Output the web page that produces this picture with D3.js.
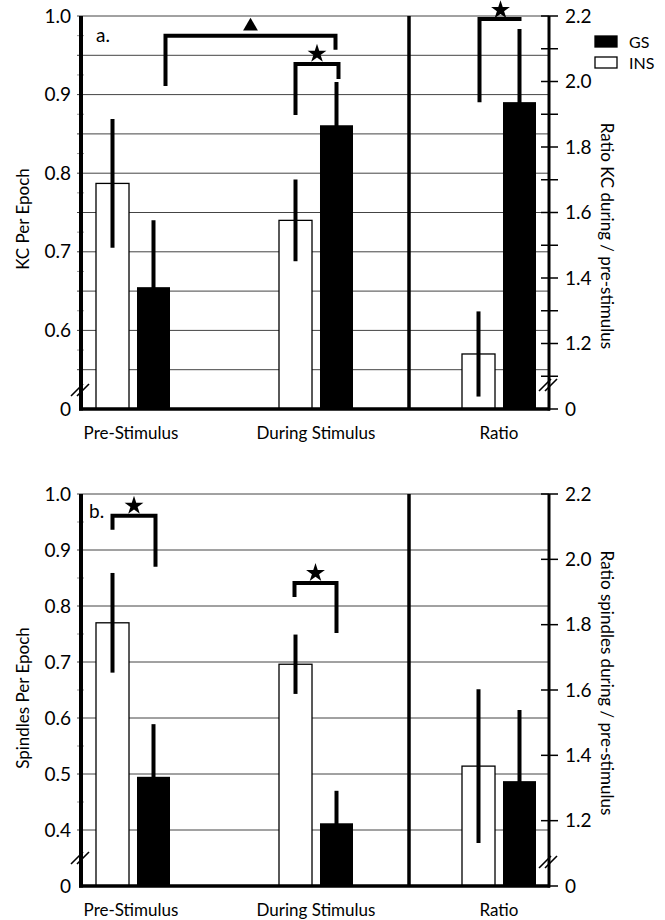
<!DOCTYPE html>
<html>
<head>
<meta charset="utf-8">
<script src="https://cdn.jsdelivr.net/npm/d3@7"></script>
<style>
  body { margin: 0; background: #fff; }
  text { font-family: Lato, "Open Sans", sans-serif; fill: #000; }
</style>
</head>
<body>
<script>
// les données
const categories = ["Pre-Stimulus", "During Stimulus", "Ratio"];
const groupes = ["INS", "GS"];

// panel a : KC
const kcIns = [0.787, 0.740, 1.168];
const kcInsErr = [0.082, 0.052, 0.130];
const kcGs = [0.655, 0.861, 1.937];
const kcGsErr = [0.085, 0.055, 0.223];

// panel b : spindles
const spIns = [0.770, 0.696, 1.367];
const spInsErr = [0.089, 0.053, 0.235];
const spGs = [0.495, 0.412, 1.321];
const spGsErr = [0.094, 0.058, 0.218];

const ticksGaucheA = [0.5, 0.6, 0.7, 0.8, 0.9, 1.0];
const ticksGaucheB = [0.3, 0.4, 0.5, 0.6, 0.7, 0.8, 0.9, 1.0];
const ticksDroite = [1.0, 1.2, 1.4, 1.6, 1.8, 2.0, 2.2];

// crochets de signif. (x: categorie/groupe, y en unités des axes)
const crochetsA = [
  { axe: "g", c1: 0, g1: "GS", dx1: 12, c2: 1, g2: "GS", dx2: -1, y1: 0.911, yTop: 0.975, y2: 0.957, sym: "tri", ySym: 0.987 },
  { axe: "g", c1: 1, g1: "INS", dx1: 0, c2: 1, g2: "GS", dx2: 2, y1: 0.874, yTop: 0.939, y2: 0.920, sym: "star", ySym: 0.952 },
  { axe: "d", c1: 2, g1: "INS", dx1: 1, c2: 2, g2: "GS", dx2: 2, y1: 1.937, yTop: 2.191, y2: 2.191, sym: "star", ySym: 2.218 }
];
const crochetsB = [
  { axe: "g", c1: 0, g1: "INS", dx1: 0, c2: 0, g2: "GS", dx2: 2, y1: 0.936, yTop: 0.961, y2: 0.870, sym: "star", ySym: 0.979 },
  { axe: "g", c1: 1, g1: "INS", dx1: -1, c2: 1, g2: "GS", dx2: 0, y1: 0.816, yTop: 0.841, y2: 0.752, sym: "star", ySym: 0.859 }
];

const largeur = 665;
const hauteur = 920;
const gauche = 81;
const droite = 549;

const svg = d3.select("body")
  .append("svg")
  .attr("width", largeur)
  .attr("height", hauteur);

const x = d3.scalePoint()
  .domain(categories)
  .range([133, 499]);

const xInner = d3.scaleBand()
  .domain(groupes)
  .range([-37, 37])
  .paddingInner(0.195);

function centre(c, g) {
  return x(categories[c]) + xInner(g) + xInner.bandwidth() / 2;
}

function panneau(cfg) {
  const yG = d3.scaleLinear().domain(cfg.domG).range([cfg.bas, cfg.haut]);
  const yD = d3.scaleLinear().domain([1.0, 2.2]).range([cfg.bas, cfg.haut]);
  const g = svg.append("g");

  // grille
  g.selectAll(".grille")
    .data(cfg.grille)
    .join("line")
    .attr("x1", gauche - 4).attr("x2", droite)
    .attr("y1", d => yG(d)).attr("y2", d => yG(d))
    .attr("stroke", "#444").attr("stroke-width", 1);

  // petits ticks a gauche
  g.selectAll(".mini")
    .data(cfg.mini)
    .join("line")
    .attr("x1", gauche - 4).attr("x2", gauche + 3)
    .attr("y1", d => yG(d)).attr("y2", d => yG(d))
    .attr("stroke", "#999").attr("stroke-width", 1);

  // barres
  const barres = [];
  categories.forEach((c, i) => {
    const ech = i === 2 ? yD : yG;
    barres.push({ c: i, g: "INS", v: cfg.ins[i], e: cfg.insErr[i], y: ech });
    barres.push({ c: i, g: "GS", v: cfg.gs[i], e: cfg.gsErr[i], y: ech });
  });

  g.selectAll(".barre")
    .data(barres)
    .join("rect")
    .attr("x", d => x(categories[d.c]) + xInner(d.g))
    .attr("width", xInner.bandwidth())
    .attr("y", d => d.y(d.v))
    .attr("height", d => cfg.bas - d.y(d.v))
    .attr("fill", d => d.g === "GS" ? "#000" : "#fff")
    .attr("stroke", "#000")
    .attr("stroke-width", d => d.g === "GS" ? 0 : 1.3);

  g.selectAll(".err")
    .data(barres)
    .join("line")
    .attr("x1", d => centre(d.c, d.g)).attr("x2", d => centre(d.c, d.g))
    .attr("y1", d => d.y(d.v + d.e)).attr("y2", d => d.y(d.v - d.e))
    .attr("stroke", "#000").attr("stroke-width", 4);

  // axes
  const axeG = d3.axisLeft(yG)
    .tickValues(cfg.ticksG)
    .tickSize(0)
    .tickPadding(10)
    .tickFormat(d => d === cfg.domG[0] ? "0" : d3.format(".1f")(d));
  const ag = g.append("g").attr("transform", `translate(${gauche},0)`).call(axeG);
  ag.select(".domain").remove();
  ag.selectAll("text").style("font-size", "19px").style("font-family", "Lato, sans-serif");

  const axeD = d3.axisRight(yD)
    .tickValues(cfg.ticksD)
    .tickSize(0)
    .tickPadding(16)
    .tickFormat(d => d === 1.0 ? "0" : (Math.round(d * 10) % 2 === 0 ? d3.format(".1f")(d) : ""));
  const ad = g.append("g").attr("transform", `translate(${droite},0)`).call(axeD);
  ad.select(".domain").remove();
  ad.selectAll("text").style("font-size", "19px").style("font-family", "Lato, sans-serif");

  g.selectAll(".tickD")
    .data(cfg.ticksD)
    .join("line")
    .attr("x1", droite - 8).attr("x2", droite + 9)
    .attr("y1", d => yD(d)).attr("y2", d => yD(d))
    .attr("stroke", "#000").attr("stroke-width", 1.5);

  // lignes d'axe
  g.append("line").attr("x1", gauche).attr("x2", gauche)
    .attr("y1", cfg.haut).attr("y2", cfg.bas + 1.5)
    .attr("stroke", "#000").attr("stroke-width", 4);
  g.append("line").attr("x1", droite).attr("x2", droite)
    .attr("y1", cfg.haut).attr("y2", cfg.bas + 1.5)
    .attr("stroke", "#000").attr("stroke-width", 3);
  g.append("line").attr("x1", gauche - 2).attr("x2", droite + 1)
    .attr("y1", cfg.bas).attr("y2", cfg.bas)
    .attr("stroke", "#000").attr("stroke-width", 3.5);
  const sep = (x(categories[1]) + x(categories[2])) / 2 + 1.5;
  g.append("line").attr("x1", sep).attr("x2", sep)
    .attr("y1", cfg.haut).attr("y2", cfg.bas)
    .attr("stroke", "#000").attr("stroke-width", 3.5);

  // coupures //
  [[gauche, cfg.coupeG], [droite, cfg.coupeD]].forEach(([cx, cy]) => {
    [-3, 3].forEach(o => {
      g.append("line")
        .attr("x1", cx - 7 + o).attr("y1", cy + 6)
        .attr("x2", cx + 5 + o).attr("y2", cy - 6)
        .attr("stroke", "#000").attr("stroke-width", 1.6);
    });
  });

  // crochets
  cfg.crochets.forEach(b => {
    const ech = b.axe === "d" ? yD : yG;
    const x1 = centre(b.c1, b.g1) + b.dx1;
    const x2 = centre(b.c2, b.g2) + b.dx2;
    g.append("path")
      .attr("d", d3.line()([[x1, ech(b.y1)], [x1, ech(b.yTop)], [x2, ech(b.yTop)], [x2, ech(b.y2)]]))
      .attr("fill", "none").attr("stroke", "#000").attr("stroke-width", 4)
      .attr("stroke-linejoin", "miter");
    const sym = b.sym === "star" ? d3.symbol(d3.symbolStar, 110) : d3.symbol(d3.symbolTriangle, 95);
    g.append("path")
      .attr("d", sym())
      .attr("transform", `translate(${(x1 + x2) / 2},${ech(b.ySym)})`)
      .attr("fill", "#000");
  });

  // textes
  g.append("text").attr("x", cfg.lettreX).attr("y", cfg.lettreY)
    .style("font-size", "19px").text(cfg.lettre);

  g.selectAll(".cat")
    .data(categories)
    .join("text")
    .attr("x", (d, i) => x(d) - (i === 0 ? 2 : 0))
    .attr("y", cfg.bas + 30)
    .attr("text-anchor", "middle")
    .style("font-size", "17px")
    .text(d => d);

  g.append("text")
    .attr("transform", `translate(29,${cfg.titreGY}) rotate(-90)`)
    .attr("text-anchor", "middle")
    .style("font-size", "17px")
    .text(cfg.titreG);

  g.append("text")
    .attr("transform", `translate(601,${cfg.titreDY}) rotate(90)`)
    .attr("text-anchor", "middle")
    .style("font-size", "17px")
    .text(cfg.titreD);
}

panneau({
  haut: 16, bas: 409, domG: [0.5, 1.0],
  grille: d3.range(0.55, 1.001, 0.05),
  mini: d3.range(0.575, 1.0, 0.05),
  ticksG: ticksGaucheA,
  ticksD: d3.range(1.0, 2.201, 0.1).map(d => Math.round(d * 10) / 10),
  ins: kcIns, insErr: kcInsErr, gs: kcGs, gsErr: kcGsErr,
  crochets: crochetsA,
  coupeG: 390, coupeD: 385,
  lettre: "a.", lettreX: 96, lettreY: 42,
  titreG: "KC Per Epoch", titreGY: 219,
  titreD: "Ratio KC during / pre-stimulus", titreDY: 236
});

panneau({
  haut: 494, bas: 886, domG: [0.3, 1.0],
  grille: d3.range(0.4, 1.001, 0.1),
  mini: d3.range(0.45, 1.0, 0.1),
  ticksG: ticksGaucheB,
  ticksD: ticksDroite,
  ins: spIns, insErr: spInsErr, gs: spGs, gsErr: spGsErr,
  crochets: crochetsB,
  coupeG: 858, coupeD: 862,
  lettre: "b.", lettreX: 89, lettreY: 518,
  titreG: "Spindles Per Epoch", titreGY: 698,
  titreD: "Ratio spindles during / pre-stimulus", titreDY: 683
});

// legende
const legende = svg.append("g");
legende.selectAll("rect")
  .data(["GS", "INS"])
  .join("rect")
  .attr("x", 595)
  .attr("y", (d, i) => 36 + i * 21)
  .attr("width", 22)
  .attr("height", 11)
  .attr("fill", d => d === "GS" ? "#000" : "#fff")
  .attr("stroke", "#000")
  .attr("stroke-width", 1.3);
legende.selectAll("text")
  .data(["GS", "INS"])
  .join("text")
  .attr("x", 629)
  .attr("y", (d, i) => 48 + i * 21)
  .style("font-size", "16px")
  .text(d => d);
</script>
</body>
</html>
